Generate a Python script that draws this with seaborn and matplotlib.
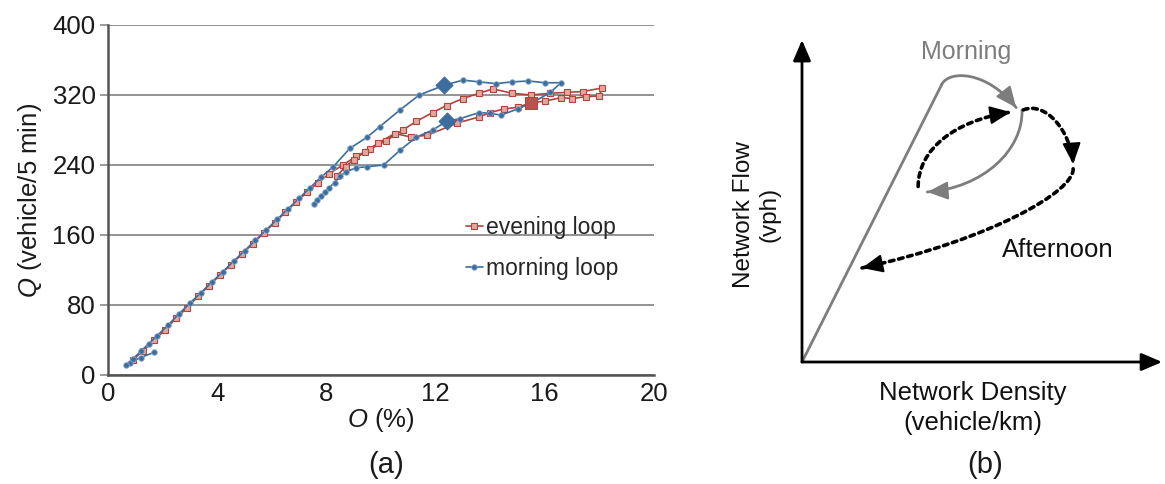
import numpy as np
import pandas as pd
import matplotlib
matplotlib.use("Agg")
import matplotlib.pyplot as plt
import seaborn as sns
from matplotlib.lines import Line2D
from matplotlib.patches import PathPatch
from matplotlib.path import Path

sns.set_theme(style="white")
plt.rcParams["font.family"] = ["Liberation Sans", "DejaVu Sans"]
plt.rcParams["mathtext.fontset"] = "custom"
plt.rcParams["mathtext.it"] = "Liberation Sans:italic"
plt.rcParams["mathtext.rm"] = "Liberation Sans"

# ---- (a) observed occupancy / flow loops ----
morning_occ = [1.7, 1.2, 0.8, 0.65, 0.9, 1.2, 1.5, 1.8, 2.2, 2.6, 3.0, 3.4, 3.8, 4.2,
               4.6, 5.0, 5.4, 5.8, 6.2, 6.6, 7.0, 7.4, 7.8, 8.25, 8.86, 9.5, 9.96,
               10.7, 11.4, 12.3, 13.0, 13.6, 14.2, 14.8, 15.4, 16.0, 16.6, 16.2,
               15.6, 15.0, 14.4, 14.0, 13.6, 12.9, 12.4, 11.9, 11.3, 10.7, 10.1,
               9.5, 9.1, 8.7, 8.5, 8.3, 8.1, 7.95, 7.8, 7.65, 7.55]
morning_flow = [26, 20, 14, 11, 18, 27, 36, 45, 57, 70, 82, 94, 106, 118,
                130, 142, 154, 166, 178, 190, 202, 214, 226, 238, 259, 272, 284,
                303, 320, 331, 337, 335, 333, 335, 336, 334, 334, 323,
                312, 304, 297, 299, 300, 293, 290, 280, 272, 257, 240,
                238, 237, 232, 227, 220, 214, 209, 205, 200, 196]

evening_occ = [0.9, 1.3, 1.7, 2.1, 2.5, 2.9, 3.3, 3.7, 4.1, 4.5, 4.9, 5.3, 5.7, 6.1,
               6.5, 6.9, 7.3, 7.7, 8.1, 8.6, 9.1, 9.6, 10.2, 10.8, 11.3, 11.9, 12.4,
               13.0, 13.6, 14.1, 14.8, 15.5, 16.2, 16.8, 17.4, 18.1, 18.0, 17.5,
               17.0, 16.6, 16.0, 15.5, 15.0, 14.5, 14.0, 13.6, 12.8, 11.7, 11.1,
               10.5, 9.9, 9.4, 9.0, 8.7, 8.4]
evening_flow = [17, 28, 40, 52, 65, 77, 90, 102, 114, 126, 138, 150, 162, 174,
                186, 198, 209, 220, 230, 240, 250, 258, 268, 280, 290, 300, 308,
                316, 322, 327, 322, 320, 322, 323, 324, 328, 319, 318,
                316, 317, 313, 311, 306, 304, 300, 295, 288, 274, 272,
                276, 265, 255, 246, 238, 228]

morning_key_occ = [12.3, 12.4]
morning_key_flow = [331, 290]
evening_key_occ = [15.5]
evening_key_flow = [311]

x_ticks = [0, 4, 8, 12, 16, 20]
y_ticks = [0, 80, 160, 240, 320, 400]
series_names = ["evening loop", "morning loop"]

blue = "#3c6d9e"
red = "#b0443c"

W, H = 1165, 484
fig = plt.figure(figsize=(W / 100, H / 100), dpi=100)
ax = fig.add_axes([108 / W, 109 / H, 546 / W, 350 / H])

morning = pd.DataFrame({"occ": morning_occ, "flow": morning_flow})
evening = pd.DataFrame({"occ": evening_occ, "flow": evening_flow})

red_style = dict(color=red, lw=1.2, marker="s", markersize=4,
                 markerfacecolor="#e3a79f", markeredgecolor=red, markeredgewidth=0.8)
blue_style = dict(color=blue, lw=1.2, marker="o", markersize=4,
                  markerfacecolor=blue, markeredgecolor="#86a8c8", markeredgewidth=0.6)

sns.lineplot(data=evening, x="occ", y="flow", sort=False, estimator=None, ax=ax,
             **red_style)
sns.lineplot(data=morning, x="occ", y="flow", sort=False, estimator=None, ax=ax,
             **blue_style)
sns.scatterplot(x=morning_key_occ, y=morning_key_flow, ax=ax, marker="D", s=75,
                color=blue, edgecolor=blue, zorder=5)
sns.scatterplot(x=evening_key_occ, y=evening_key_flow, ax=ax, marker="s", s=75,
                color="#b5544c", edgecolor=red, zorder=5)

ax.set_xlim(0, 20)
ax.set_ylim(0, 400)
ax.set_xticks(x_ticks)
ax.set_yticks(y_ticks)
ax.set_xticklabels([str(v) for v in x_ticks], fontsize=18.5, color="#1a1a1a")
ax.set_yticklabels([str(v) for v in y_ticks], fontsize=18.5, color="#1a1a1a")
ax.yaxis.grid(True, color="#8a8a8a", lw=1.3)
ax.xaxis.grid(False)
ax.set_axisbelow(True)
for s in ["top", "right"]:
    ax.spines[s].set_visible(False)
for s in ["left", "bottom"]:
    ax.spines[s].set_color("#555555")
    ax.spines[s].set_linewidth(1.8)
ax.tick_params(axis="y", length=6, width=1.2, color="#8a8a8a", pad=3, left=True)
ax.tick_params(axis="x", length=0, pad=5)
ax.set_xlabel("$O$ (%)", fontsize=18.5, labelpad=0, color="#1a1a1a")
ax.set_ylabel("$Q$ (vehicle/5 min)", fontsize=18.5, labelpad=6, color="#1a1a1a")

handles = [
    Line2D([], [], **red_style),
    Line2D([], [], **blue_style),
]
ax.legend(handles, series_names, loc="center left", bbox_to_anchor=(0.655, 0.363),
          frameon=False, fontsize=16.5, handlelength=0.75, handletextpad=0.15,
          labelspacing=0.75, borderpad=0, borderaxespad=0)

fig.text(386 / W, 1 - 465 / H, "(a)", fontsize=21, ha="center", va="center",
         color="#1a1a1a")

# ---- (b) schematic hysteresis diagram ----
bx = fig.add_axes([802 / W, 122 / H, 363 / W, 322 / H])
bx.set_xlim(0, 1)
bx.set_ylim(0, 1)
bx.axis("off")

ax_arrow = dict(arrowstyle="-|>,head_length=0.7,head_width=0.3", color="black",
                lw=2.0, shrinkA=0, shrinkB=0, mutation_scale=18)
bx.annotate("", xy=(0, 1.0), xytext=(0, 0), arrowprops=ax_arrow, annotation_clip=False)
bx.annotate("", xy=(0.992, 0), xytext=(0, 0), arrowprops=ax_arrow, annotation_clip=False)

gray = "#7d7d7d"


def curve(ax_, pts, color, lw, ls):
    if len(pts) == 2:
        codes = [Path.MOVETO, Path.LINETO]
    else:
        codes = [Path.MOVETO] + [Path.CURVE4] * 3
    patch = PathPatch(Path(pts, codes), fill=False, edgecolor=color, lw=lw,
                      linestyle=ls, capstyle="round", clip_on=False)
    ax_.add_patch(patch)


def head(ax_, tip, prev, color):
    d = np.array(tip) - np.array(prev)
    d = d / np.hypot(*d) * 0.01
    ax_.annotate("", xy=tip, xytext=tuple(np.array(tip) - d),
                 arrowprops=dict(arrowstyle="-|>,head_length=0.8,head_width=0.35",
                                 color=color, lw=1.5, shrinkA=0, shrinkB=0,
                                 mutation_scale=16),
                 annotation_clip=False)


# morning (solid grey)
rise = [(0.0, 0.0), (0.385, 0.862)]
top = [(0.385, 0.862), (0.405, 0.907), (0.51, 0.905), (0.59, 0.79)]
back = [(0.606, 0.783), (0.61, 0.66), (0.50, 0.54), (0.345, 0.528)]
curve(bx, rise, gray, 2.0, "solid")
curve(bx, top, gray, 2.0, "solid")
curve(bx, back, gray, 2.0, "solid")
head(bx, top[3], top[2], gray)
head(bx, back[3], back[2], gray)

# afternoon (dotted black)
dots = (0, (1.3, 1.3))
loop1 = [(0.32, 0.545), (0.32, 0.66), (0.42, 0.75), (0.575, 0.776)]
loop2 = [(0.61, 0.783), (0.67, 0.81), (0.74, 0.72), (0.747, 0.615)]
loop3 = [(0.747, 0.60), (0.75, 0.53), (0.52, 0.38), (0.165, 0.292)]
for seg in (loop1, loop2, loop3):
    curve(bx, seg, "black", 2.6, dots)
    head(bx, seg[3], seg[2], "black")

bx.text(0.452, 0.964, "Morning", fontsize=18, color=gray, ha="center", va="center")
bx.text(0.705, 0.348, "Afternoon", fontsize=18.5, color="#111111", ha="center",
        va="center")
bx.text(-0.124, 0.457, "Network Flow\n(vph)", fontsize=17.5, rotation=90,
        ha="center", va="center", multialignment="center", color="#111111")
bx.text(0.47, -0.143, "Network Density\n(vehicle/km)", fontsize=18.5,
        ha="center", va="center", multialignment="center", color="#111111",
        linespacing=1.3)
fig.text(985 / W, 1 - 465 / H, "(b)", fontsize=21, ha="center", va="center",
         color="#1a1a1a")

fig.savefig("out.png", dpi=100, facecolor="white")
